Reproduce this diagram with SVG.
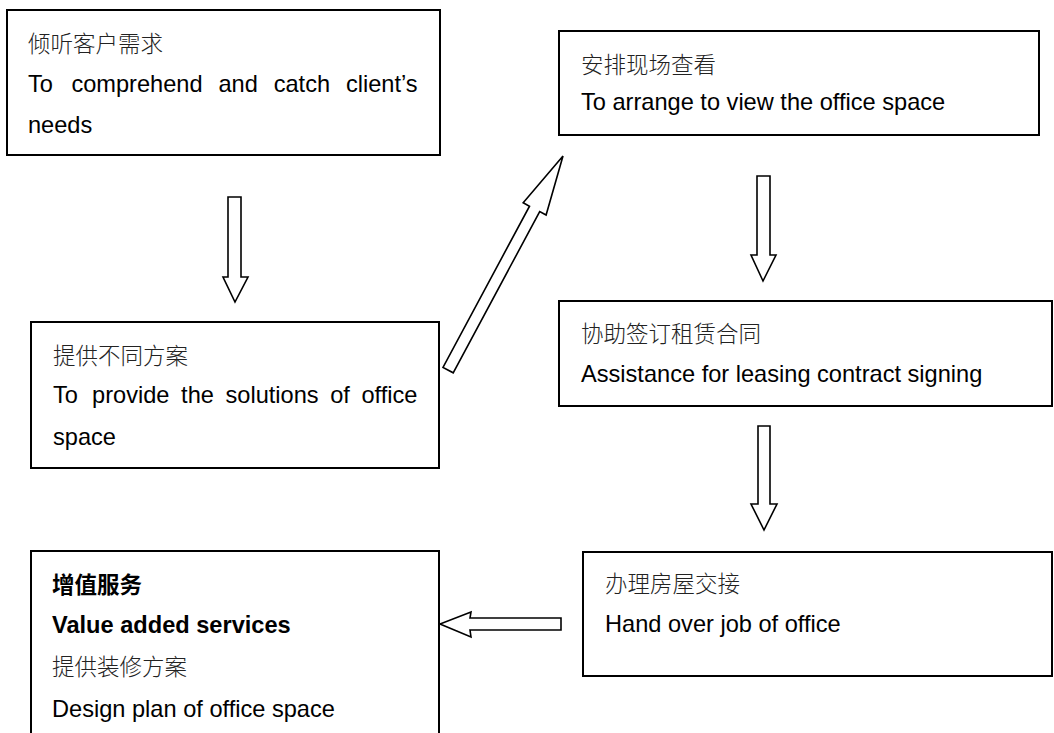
<svg xmlns="http://www.w3.org/2000/svg" width="1054" height="733" viewBox="0 0 1054 733">
<style>
.box{fill:#fff;stroke:#000;stroke-width:2}
.arr{fill:#fff;stroke:#000;stroke-width:1.6;stroke-linejoin:miter}
.zh{font-family:"Noto Sans CJK SC",sans-serif;font-size:22.5px;font-weight:300;fill:#222}
.en{font-family:"Liberation Sans",Arial,sans-serif;font-size:23.6px;fill:#000}
.b{font-weight:bold;fill:#000}
</style>
<rect width="1054" height="733" fill="#fff"/>
<g id="connectors">
<polygon class="arr" points="228,197 241,197 241,277 248,277 235,302 223,277 228,277"/>
<polygon class="arr" points="757,176 770,176 770,255 776,255 763,281 751,255 757,255"/>
<polygon class="arr" points="758,426 770,426 770,504 777,504 764,530 751,504 758,504"/>
<polygon class="arr" points="561,618 561,630 470,630 471,637 440,624 471,612 470,618"/>
<polygon class="arr" points="563,156 546.1,215 539.7,211.6 453.2,372.8 443,367.4 529.5,206.2 523.2,202.8"/>
</g>
<g id="n1">
<rect class="box" x="7" y="10" width="433" height="145"/>
<text class="zh" x="28" y="52">倾听客户需求</text>
<text class="en" y="92"><tspan x="28">To</tspan><tspan x="71.4">comprehend</tspan><tspan x="218.4">and</tspan><tspan x="273.7">catch</tspan><tspan x="345.9">client’s</tspan></text>
<text class="en" x="28" y="133">needs</text>
</g>
<g id="n2">
<rect class="box" x="559" y="31" width="480" height="104"/>
<text class="zh" x="581" y="73">安排现场查看</text>
<text class="en" x="581" y="110">To arrange to view the office space</text>
</g>
<g id="n3">
<rect class="box" x="31" y="322" width="408" height="146"/>
<text class="zh" x="53" y="364">提供不同方案</text>
<text class="en" y="403"><tspan x="53">To</tspan><tspan x="92.1">provide</tspan><tspan x="181.1">the</tspan><tspan x="225.5">solutions</tspan><tspan x="330.2">of</tspan><tspan x="361.5">office</tspan></text>
<text class="en" x="53" y="445">space</text>
</g>
<g id="n4">
<rect class="box" x="559" y="301" width="493" height="105"/>
<text class="zh" x="581" y="342">协助签订租赁合同</text>
<text class="en" x="581" y="382">Assistance for leasing contract signing</text>
</g>
<g id="n5">
<rect class="box" x="583" y="552" width="469" height="124"/>
<text class="zh" x="605" y="592">办理房屋交接</text>
<text class="en" x="605" y="632">Hand over job of office</text>
</g>
<g id="n6">
<rect class="box" x="31" y="551" width="408" height="200"/>
<text class="zh b" x="52" y="593">增值服务</text>
<text class="en b" x="52" y="633">Value added services</text>
<text class="zh" x="52" y="675">提供装修方案</text>
<text class="en" x="52" y="717">Design plan of office space</text>
</g>
</svg>
